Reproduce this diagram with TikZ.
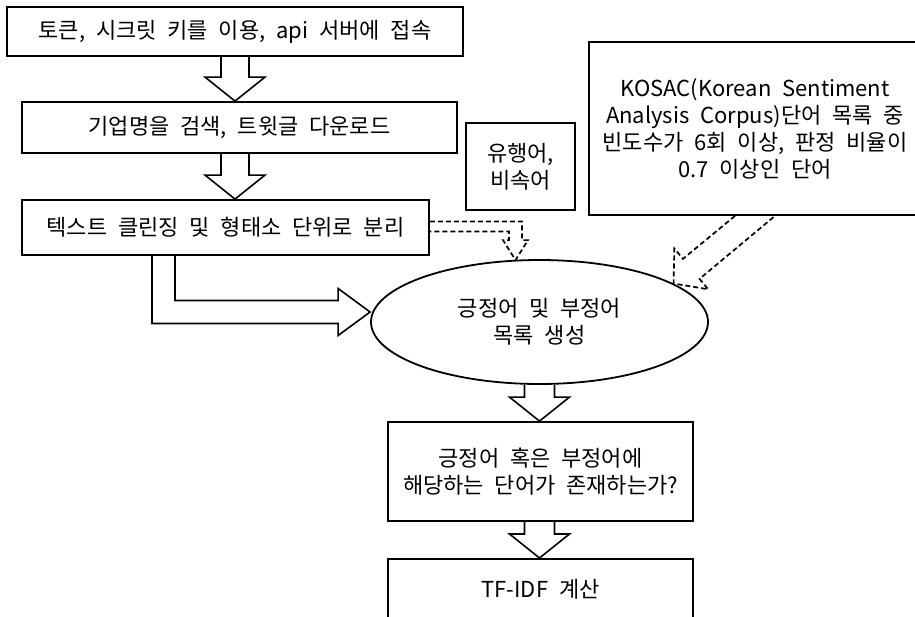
\documentclass[tikz,border=0pt]{standalone}
\usepackage{fontspec}
\setmainfont{Noto Sans CJK KR}[WordSpace=2.2]
\usetikzlibrary{calc, shapes.geometric}

\begin{document}
\begin{tikzpicture}[
        x=1pt, y=-1pt,
        box/.style={draw, line width=1.8pt, inner sep=1pt, align=center, font=\fontsize{22}{27}\selectfont},
        blockarrow/.style={line width=1.6pt, line join=miter},
        dasharrow/.style={line width=1.7pt, dash pattern=on 5pt off 3pt}
      ]
      \clip (0,0) rectangle (915,616);

      % Left steps
      \node[box, minimum width=456pt, minimum height=49pt] (apiConnect) at (235, 31.5) {토큰, 시크릿 키를 이용, api 서버에 접속};
      \node[box, minimum width=435pt, minimum height=51pt] (tweetDownload) at (239.5, 127.5) {기업명을 검색, 트윗글 다운로드};
      \node[box, minimum width=407pt, minimum height=55pt] (textClean) at (225.5, 227.5) {텍스트 클린징 및 형태소 단위로 분리};

      % Word lists
      \node[box, minimum width=109pt, minimum height=87pt] (slangWords) at (520.5, 166.5) {유행어,\\비속어};
      \node[box, minimum width=332pt, minimum height=173pt] (kosacWords) at (755, 128.5) {KOSAC(Korean Sentiment\\Analysis Corpus)단어 목록 중\\빈도수가 6회 이상, 판정 비율이\\0.7 이상인 단어};

      % Lower steps
      \node[box, ellipse, minimum width=337pt, minimum height=124pt, inner sep=0pt] (polarityList) at (539.5, 322) {긍정어 및 부정어\\목록 생성};
      \node[box, minimum width=305pt, minimum height=99pt] (wordCheck) at (540.5, 471.5) {긍정어 혹은 부정어에\\해당하는 단어가 존재하는가?};
      \node[box, minimum width=305pt, minimum height=60pt, anchor=north] (tfidfCalc) at (540.5, 558) {TF-IDF 계산};

      % Block arrows
      \draw[blockarrow] ($(apiConnect.south)+(-14,0)$) -- ($(apiConnect.south |- tweetDownload.north)+(-14,-24)$) -- ++(-16,0) -- (apiConnect.south |- tweetDownload.north) -- ++(30,-24) -- ++(-16,0) -- ($(apiConnect.south)+(14,0)$);
      \draw[blockarrow] ($(apiConnect.south |- tweetDownload.south)+(-14,0)$) -- ($(apiConnect.south |- textClean.north)+(-14,-24)$) -- ++(-16,0) -- (apiConnect.south |- textClean.north) -- ++(30,-24) -- ++(-16,0) -- ($(apiConnect.south |- tweetDownload.south)+(14,0)$);
      \draw[blockarrow] ($(polarityList.south)+(-15,0)$) -- ($(polarityList.south |- wordCheck.north)+(-15,-24)$) -- ++(-15,0) -- (polarityList.south |- wordCheck.north) -- ++(30,-24) -- ++(-15,0) -- ($(polarityList.south)+(15,0)$);
      \draw[blockarrow] ($(polarityList.south |- wordCheck.south)+(-15,0)$) -- ($(polarityList.south |- tfidfCalc.north)+(-15,-24)$) -- ++(-15,0) -- (polarityList.south |- tfidfCalc.north) -- ++(30,-24) -- ++(-15,0) -- ($(polarityList.south |- wordCheck.south)+(15,0)$);

      \coordinate (lTip) at ($(polarityList.west)+(0,-10)$);
      \draw[blockarrow] ($(textClean.south)+(-50.5,0)$) |- ($(lTip)+(-32,-11.5)$) -- ++(0,-12) -- (lTip) -- ($(lTip)+(-32,23.5)$) -- ++(0,-12) -| ($(textClean.south)+(-73.5,0)$);

      % Dashed arrows
      \coordinate (slangTip) at ($(polarityList.north)+(-24,1)$);
      \draw[dasharrow] ($(textClean.east)+(0,-6)$) -| ($(slangTip)+(6.5,-20)$) -- ++(6,0) -- (slangTip) -- ($(slangTip)+(-12.5,-20)$) -- ++(6,0) |- ($(textClean.east)+(0,4)$);

      \coordinate (kosacTip) at (polarityList.16);
      \coordinate (kosacBase) at ($(kosacTip)!23pt!(kosacWords.south)$);
      \draw[dasharrow] ($(kosacWords.south)+(-20,0)$) -- ($(kosacBase)!13pt!90:(kosacWords.south)$) -- ($(kosacBase)!26.5pt!90:(kosacWords.south)$) -- (kosacTip) -- ($(kosacBase)!26.5pt!-90:(kosacWords.south)$) -- ($(kosacBase)!13pt!-90:(kosacWords.south)$) -- ($(kosacWords.south)+(20,0)$);
\end{tikzpicture}
\end{document}
